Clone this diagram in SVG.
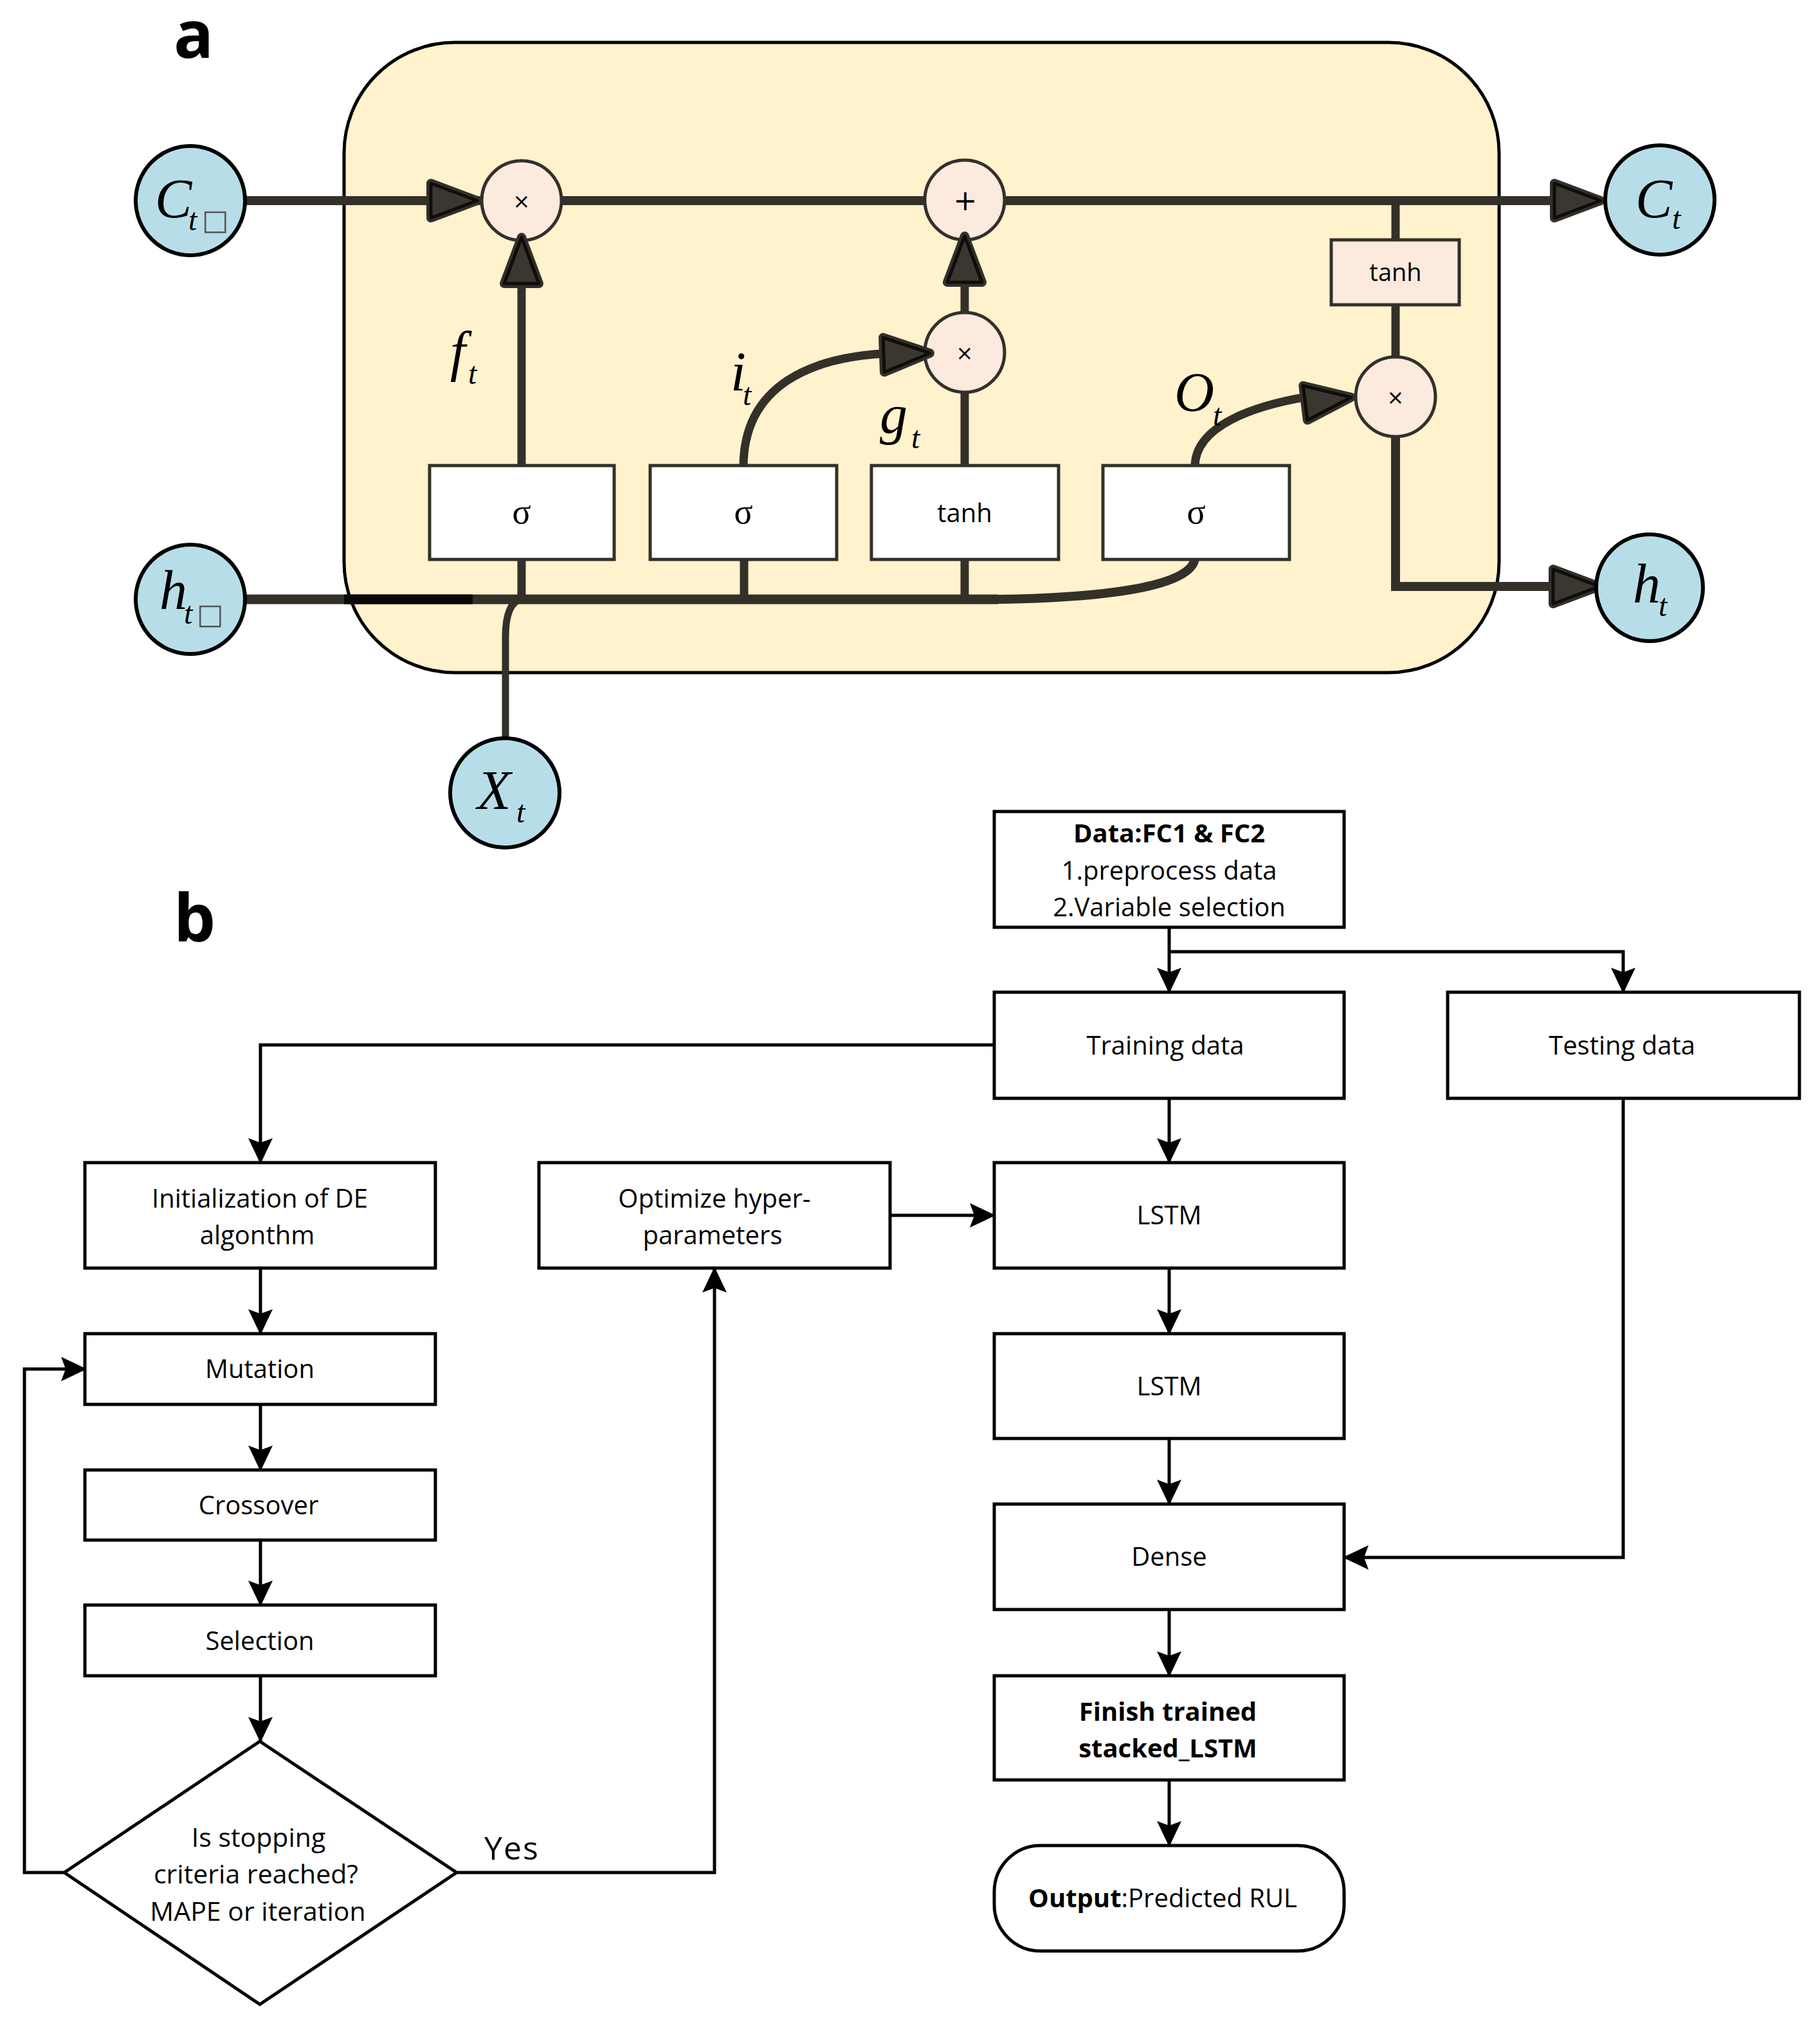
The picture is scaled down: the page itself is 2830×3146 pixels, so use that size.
<svg xmlns="http://www.w3.org/2000/svg" xmlns:xlink="http://www.w3.org/1999/xlink" width="2830" height="3146" viewBox="0 0 2830 3146">
<defs>
<style>
.cell{fill:#FFF2CC;stroke:#000;stroke-width:5}
.io{fill:#B7DEE8;stroke:#000;stroke-width:6}
.op{fill:#FCEADE;stroke:#33302a;stroke-width:5}
.gate{fill:#fff;stroke:#33302a;stroke-width:5}
.w{fill:none;stroke:#33302a;stroke-width:14}
.wv{fill:none;stroke:#33302a;stroke-width:13}
.var{font-family:"Liberation Serif","Times New Roman",serif;font-style:italic;font-size:86px;fill:#000}
.sub{font-size:48px}
.sq{font-family:"DejaVu Sans",sans-serif;font-style:normal;font-size:44px;fill:#555}
.sig{font-family:"Liberation Serif",serif;font-size:54px;text-anchor:middle;fill:#000}
.lbl{font-family:"Open Sans",sans-serif;font-size:40px;text-anchor:middle;fill:#000}
.b{font-weight:bold}
.big{font-family:"Open Sans",sans-serif;font-weight:bold;font-size:103px;fill:#000}
.box{fill:#fff;stroke:#000;stroke-width:5}
.fl{fill:none;stroke:#000;stroke-width:5;marker-end:url(#arr)}
</style>
<marker id="arr" viewBox="0 0 40 40" markerWidth="40" markerHeight="40" refX="38" refY="20" orient="auto" markerUnits="userSpaceOnUse">
<path d="M40,20 L0,1 L7,20 L0,39 Z" fill="#000"/>
</marker>
<g id="ah">
<polygon points="-7,0 -79,-27 -79,27" fill="#3a372f" stroke="#33302a" stroke-width="14" stroke-linejoin="round"/>
<polygon points="-7,0 -79,-27 -79,27" fill="#3a372f" stroke="#0e0d0b" stroke-width="5" stroke-linejoin="round"/>
</g>
</defs>
<rect width="2830" height="3146" fill="#fff"/>

<text class="big" x="270" y="90">a</text>
<text class="big" x="270" y="1464">b</text>

<g id="lstm-cell">
<rect class="cell" x="535" y="66" width="1796" height="980" rx="172" ry="172"/>
</g>

<g id="connectors-a">
<line class="w" x1="381" y1="312" x2="2420" y2="312"/>
<line class="w" x1="381" y1="932" x2="1552" y2="932" style="stroke-width:15"/>
<line x1="535" y1="932" x2="735" y2="932" stroke="#0b0a08" stroke-width="15"/>
<path class="w" d="M1550,932 C1700,930 1858,915 1858,866"/>
<path class="wv" d="M786,1150 L786,990 C786,955 795,934 811,932" style="stroke-width:11"/>
<line class="wv" x1="811" y1="440" x2="811" y2="726"/>
<line class="wv" x1="811" y1="868" x2="811" y2="934"/>
<line class="wv" x1="1157" y1="868" x2="1157" y2="934"/>
<line class="wv" x1="1500" y1="868" x2="1500" y2="934"/>
<line class="wv" x1="1500" y1="609" x2="1500" y2="726"/>
<line class="wv" x1="1500" y1="440" x2="1500" y2="488"/>
<path class="w" d="M1156,726 C1156,600 1260,552 1395,549" style="stroke-width:13"/>
<path class="w" d="M1858,726 C1858,662 1950,630 2040,616" style="stroke-width:13"/>
<line class="wv" x1="2170" y1="312" x2="2170" y2="375"/>
<line class="wv" x1="2170" y1="472" x2="2170" y2="556"/>
<path class="w" d="M2170,678 L2170,912 L2420,912"/>
</g>

<g id="gate-f"><rect class="gate" x="668" y="724" width="287" height="146"/><text class="sig" x="811" y="814">σ</text></g>
<g id="gate-i"><rect class="gate" x="1011" y="724" width="290" height="146"/><text class="sig" x="1156" y="814">σ</text></g>
<g id="gate-g"><rect class="gate" x="1355" y="724" width="291" height="146"/><text class="lbl" x="1500" y="812">tanh</text></g>
<g id="gate-o"><rect class="gate" x="1715" y="724" width="290" height="146"/><text class="sig" x="1860" y="814">σ</text></g>
<g id="tanh-out"><rect class="op" x="2070" y="373" width="199" height="101"/><text class="lbl" x="2170" y="437" style="font-size:38px">tanh</text></g>

<g id="mul-f"><circle class="op" cx="811" cy="312" r="62"/><text x="811" y="324" text-anchor="middle" font-family="DejaVu Sans,sans-serif" font-size="32">×</text></g>
<g id="add-c"><circle class="op" cx="1500" cy="311" r="62"/><text x="1501" y="327" text-anchor="middle" font-family="DejaVu Sans,sans-serif" font-size="44">+</text></g>
<g id="mul-i"><circle class="op" cx="1500" cy="548" r="62"/><text x="1500" y="560" text-anchor="middle" font-family="DejaVu Sans,sans-serif" font-size="32">×</text></g>
<g id="mul-o"><circle class="op" cx="2170" cy="617" r="62"/><text x="2170" y="629" text-anchor="middle" font-family="DejaVu Sans,sans-serif" font-size="32">×</text></g>

<g id="arrowheads-a">
<use xlink:href="#ah" transform="translate(749,312)"/>
<use xlink:href="#ah" transform="translate(811,362) rotate(-90)"/>
<use xlink:href="#ah" transform="translate(1500,360) rotate(-90)"/>
<use xlink:href="#ah" transform="translate(1453,549) rotate(-2)"/>
<use xlink:href="#ah" transform="translate(2108,617) rotate(-7)"/>
<use xlink:href="#ah" transform="translate(2496,312)"/>
<use xlink:href="#ah" transform="translate(2494,912)"/>
</g>

<g id="c-prev"><circle class="io" cx="296" cy="312" r="85"/><text class="var" x="241" y="338">C<tspan class="sub" x="293" y="358">t</tspan><tspan class="sq" x="314" y="357">□</tspan></text></g>
<g id="h-prev"><circle class="io" cx="296" cy="932" r="85"/><text class="var" x="248" y="947">h<tspan class="sub" x="286" y="970">t</tspan><tspan class="sq" x="306" y="970">□</tspan></text></g>
<g id="x-t"><circle class="io" cx="785" cy="1233" r="85"/><text class="var" x="742" y="1258">X<tspan class="sub" x="803" y="1279">t</tspan></text></g>
<g id="c-t"><circle class="io" cx="2581" cy="311" r="85"/><text class="var" x="2543" y="338">C<tspan class="sub" x="2600" y="356">t</tspan></text></g>
<g id="h-t"><circle class="io" cx="2565" cy="914" r="83"/><text class="var" x="2539" y="937">h<tspan class="sub" x="2579" y="958">t</tspan></text></g>

<g id="gate-labels">
<text class="var" x="700" y="575">f<tspan class="sub" x="728" y="597">t</tspan></text>
<text class="var" x="1136" y="607">i<tspan class="sub" x="1155" y="630">t</tspan></text>
<text class="var" x="1368" y="673">g<tspan class="sub" x="1417" y="697">t</tspan></text>
<text class="var" x="1826" y="639">O<tspan class="sub" x="1886" y="662">t</tspan></text>
</g>

<g id="connectors-b">
<path class="fl" d="M1818,1442 L1818,1543"/>
<path class="fl" d="M1818,1480 L2524,1480 L2524,1543"/>
<path class="fl" d="M1546,1625 L405,1625 L405,1808"/>
<path class="fl" d="M1818,1708 L1818,1808"/>
<path class="fl" d="M405,1972 L405,2074"/>
<path class="fl" d="M405,2184 L405,2286"/>
<path class="fl" d="M405,2395 L405,2496"/>
<path class="fl" d="M405,2606 L405,2708"/>
<path class="fl" d="M100,2912 L38,2912 L38,2129 L133,2129"/>
<path class="fl" d="M710,2912 L1111,2912 L1111,1972"/>
<path class="fl" d="M1384,1890 L1546,1890"/>
<path class="fl" d="M1818,1972 L1818,2074"/>
<path class="fl" d="M1818,2237 L1818,2339"/>
<path class="fl" d="M2524,1708 L2524,2422 L2090,2422"/>
<path class="fl" d="M1818,2503 L1818,2606"/>
<path class="fl" d="M1818,2768 L1818,2870"/>
</g>

<g id="data"><rect class="box" x="1546" y="1262" width="544" height="180"/>
<text class="lbl b" x="1818" y="1310">Data:FC1 &amp; FC2</text>
<text class="lbl" x="1818" y="1368">1.preprocess data</text>
<text class="lbl" x="1818" y="1425">2.Variable selection</text></g>
<g id="training"><rect class="box" x="1546" y="1543" width="544" height="165"/><text class="lbl" x="1812" y="1640">Training data</text></g>
<g id="testing"><rect class="box" x="2251" y="1543" width="547" height="165"/><text class="lbl" x="2522" y="1640">Testing data</text></g>
<g id="init"><rect class="box" x="132" y="1808" width="545" height="164"/>
<text class="lbl" x="404" y="1878">Initialization of DE</text>
<text class="lbl" x="400" y="1935">algonthm</text></g>
<g id="optimize"><rect class="box" x="838" y="1808" width="546" height="164"/>
<text class="lbl" x="1111" y="1878">Optimize hyper-</text>
<text class="lbl" x="1108" y="1935">parameters</text></g>
<g id="lstm1"><rect class="box" x="1546" y="1808" width="544" height="164"/><text class="lbl" x="1818" y="1904">LSTM</text></g>
<g id="mutation"><rect class="box" x="132" y="2074" width="545" height="110"/><text class="lbl" x="404" y="2143">Mutation</text></g>
<g id="lstm2"><rect class="box" x="1546" y="2074" width="544" height="163"/><text class="lbl" x="1818" y="2170">LSTM</text></g>
<g id="crossover"><rect class="box" x="132" y="2286" width="545" height="109"/><text class="lbl" x="402" y="2355">Crossover</text></g>
<g id="dense"><rect class="box" x="1546" y="2339" width="544" height="164"/><text class="lbl" x="1818" y="2435">Dense</text></g>
<g id="selection"><rect class="box" x="132" y="2496" width="545" height="110"/><text class="lbl" x="404" y="2566">Selection</text></g>
<g id="finish"><rect class="box" x="1546" y="2606" width="544" height="162"/>
<text class="lbl b" x="1816" y="2676">Finish trained</text>
<text class="lbl b" x="1816" y="2733">stacked_LSTM</text></g>
<g id="decision"><polygon class="box" points="404,2708 710,2912 404,3117 100,2912"/>
<text class="lbl" x="402" y="2872" style="font-size:41px">Is stopping</text>
<text class="lbl" x="398" y="2929" style="font-size:41px">criteria reached?</text>
<text class="lbl" x="401" y="2987" style="font-size:41px">MAPE or iteration</text></g>
<g id="output"><rect class="box" x="1546" y="2870" width="544" height="164" rx="72" ry="72"/>
<text class="lbl" x="1808" y="2966"><tspan class="b">Output</tspan>:Predicted RUL</text></g>
<text id="yes-label" x="753" y="2892" font-family="Open Sans,sans-serif" font-size="50" letter-spacing="2">Yes</text>
</svg>
